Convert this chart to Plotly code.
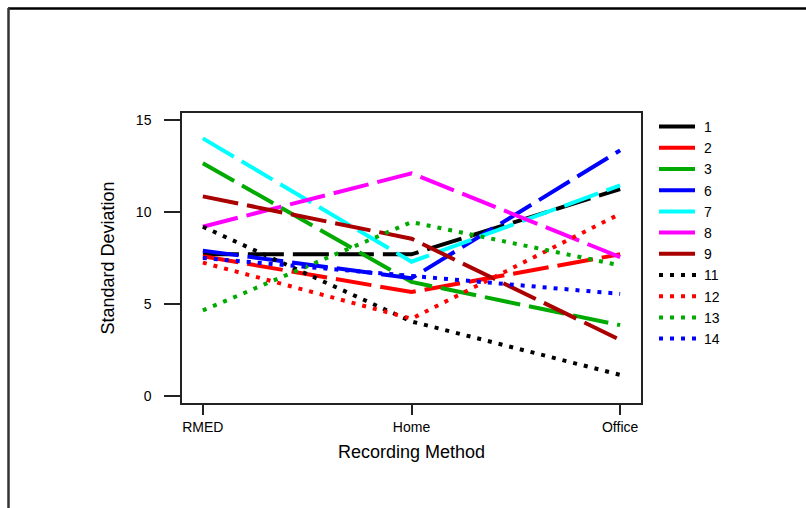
import plotly.graph_objects as go

methods = ["RMED", "Home", "Office"]
series_names = ["1", "2", "3", "6", "7", "8", "9", "11", "12", "13", "14"]
s1 = [7.7, 7.7, 11.25]
s2 = [7.6, 5.65, 7.7]
s3 = [12.65, 6.2, 3.85]
s6 = [7.9, 6.4, 13.35]
s7 = [14.0, 7.3, 11.45]
s8 = [9.2, 12.1, 7.55]
s9 = [10.85, 8.55, 3.05]
s11 = [9.2, 4.05, 1.15]
s12 = [7.25, 4.2, 9.9]
s13 = [4.65, 9.45, 7.1]
s14 = [7.5, 6.5, 5.55]
values = [s1, s2, s3, s6, s7, s8, s9, s11, s12, s13, s14]
colors = ["#000000", "#FF0000", "#00AA00", "#0000FF", "#00FFFF", "#FF00FF",
          "#AA0000", "#000000", "#FF0000", "#00AA00", "#0000FF"]
dashes = ["36px,9px"] * 7 + ["4px,7px"] * 4

W, H = 806, 508
L, R, T, B = 182, 641, 113, 403
pw, ph = R - L, B - T

def px(x):
    return (x - L) / pw

def py(y):
    return (B - y) / ph

fig = go.Figure()
for name, vals, c, d in zip(series_names, values, colors, dashes):
    fig.add_trace(go.Scatter(x=[0, 1, 2], y=vals, mode="lines", name=name,
                             line=dict(color=c, width=4, dash=d)))

font = "Liberation Sans, Arial, sans-serif"
fig.update_layout(
    width=W, height=H,
    margin=dict(l=L, r=W - R, t=T, b=H - B, pad=0),
    paper_bgcolor="white", plot_bgcolor="white",
    font=dict(family=font, size=14, color="black"),
    showlegend=True,
    legend=dict(x=px(654), y=py(111), xanchor="left", yanchor="top",
                font=dict(size=14), bgcolor="rgba(0,0,0,0)",
                tracegroupgap=0, itemwidth=40),
    xaxis=dict(range=[-0.1, 2.1], tickmode="array", tickvals=[0, 1, 2],
               ticktext=methods, showgrid=False, zeroline=False,
               showline=True, linecolor="#222", linewidth=1.5, mirror=True,
               ticks="outside", ticklen=10, tickcolor="#222", tickwidth=1.5,
               title=dict(text="Recording Method", font=dict(size=18), standoff=12)),
    yaxis=dict(range=[-0.38, 15.38], tickvals=[0, 5, 10, 15], showgrid=False,
               zeroline=False, showline=True, linecolor="#222", linewidth=1.5,
               mirror=True, ticks="outside", ticklen=16, tickcolor="#222",
               tickwidth=1.5, ticklabelstandoff=10,
               title=dict(text="Standard Deviation", font=dict(size=18), standoff=17)),
)

# outer frame
fig.add_shape(type="line", xref="paper", yref="paper", x0=px(8), x1=px(806),
              y0=py(8.5), y1=py(8.5), line=dict(color="black", width=2.5))
fig.add_shape(type="line", xref="paper", yref="paper", x0=px(8.5), x1=px(8.5),
              y0=py(8), y1=py(508), line=dict(color="#333", width=2.5))

fig.write_html("out.html")
